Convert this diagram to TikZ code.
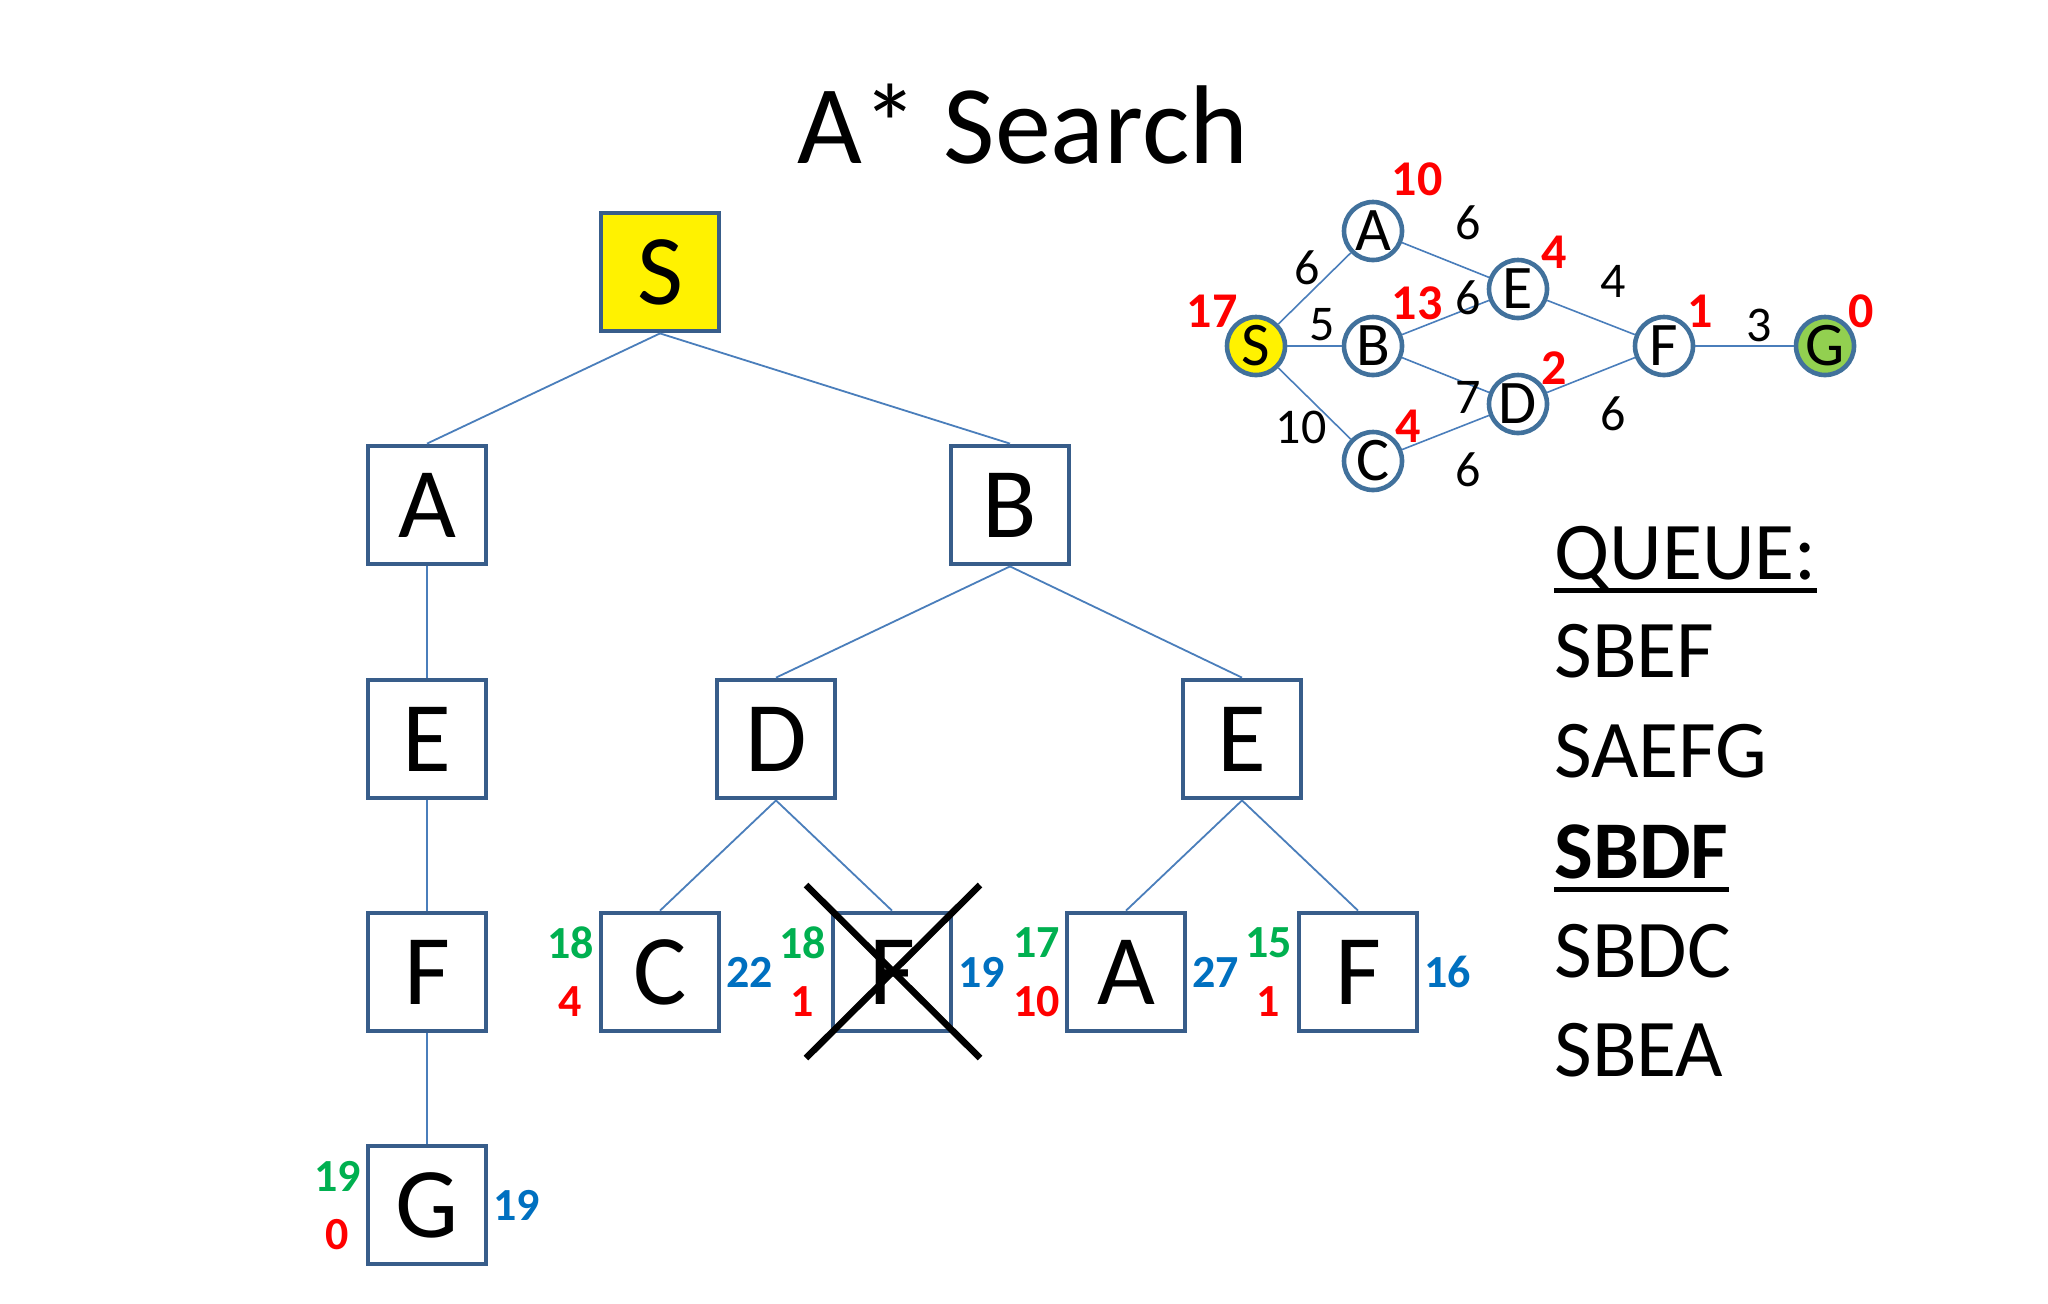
\documentclass[tikz,border=0pt]{standalone}
\usepackage{fontspec}
\setmainfont{Carlito}
\definecolor{boxc}{HTML}{385D8A}
\definecolor{edgec}{HTML}{4A7EBB}
\definecolor{circc}{HTML}{41719C}
\definecolor{gnum}{HTML}{00B050}
\definecolor{rnum}{HTML}{FF0000}
\definecolor{bnum}{HTML}{0070C0}
\definecolor{goalc}{HTML}{92D050}
\begin{document}
\begin{tikzpicture}[x=0.5pt,y=-0.5pt,
  tbox/.style={draw=boxc,line width=2.4pt,fill=white,minimum size=59pt,inner sep=0pt,font=\fontsize{50}{60}\selectfont},
  tedge/.style={draw=edgec,line width=0.9pt},
  gnode/.style={circle,draw=circc,line width=2.3pt,fill=white,minimum size=29pt,inner sep=0pt,font=\fontsize{31}{32}\selectfont},
  gedge/.style={draw=edgec,line width=0.8pt},
  wlab/.style={font=\fontsize{25}{26}\selectfont,inner sep=0pt},
  hlab/.style={font=\fontsize{25}{26}\selectfont\bfseries,text=rnum,inner sep=0pt},
  glab/.style={font=\fontsize{23}{25}\selectfont\bfseries,text=gnum,inner sep=0pt},
  rlab/.style={font=\fontsize{23}{25}\selectfont\bfseries,text=rnum,inner sep=0pt},
  blab/.style={font=\fontsize{23}{25}\selectfont\bfseries,text=bnum,inner sep=0pt},
  qtxt/.style={font=\fontsize{41}{48}\selectfont,inner sep=0pt,anchor=base west}
]
\useasboundingbox[fill=white] (0,0) rectangle (2048,1303);

% title
\node[font=\fontsize{56}{64}\selectfont,inner sep=0pt,anchor=base] (title) at (1023,163) {A* Search};

% tree
\node[tbox,fill=yellow] (tS) at (660,272) {S};
\node[tbox] (tA) at (427,505) {A};
\node[tbox] (tB) at (1010,505) {B};
\node[tbox] (tE1) at (427,739) {E};
\node[tbox] (tD) at (776,739) {D};
\node[tbox] (tE2) at (1242,739) {E};
\node[tbox] (tF1) at (427,972) {F};
\node[tbox] (tC) at (660,972) {C};
\node[tbox] (tFx) at (892,972) {F};
\node[tbox] (tA2) at (1126,972) {A};
\node[tbox] (tF2) at (1358,972) {F};
\node[tbox] (tG) at (427,1205) {G};

\draw[tedge] (tS.south) -- (tA.north);
\draw[tedge] (tS.south) -- (tB.north);
\draw[tedge] (tA.south) -- (tE1.north);
\draw[tedge] (tE1.south) -- (tF1.north);
\draw[tedge] (tF1.south) -- (tG.north);
\draw[tedge] (tB.south) -- (tD.north);
\draw[tedge] (tB.south) -- (tE2.north);
\draw[tedge] (tD.south) -- (tC.north);
\draw[tedge] (tD.south) -- (tFx.north);
\draw[tedge] (tE2.south) -- (tA2.north);
\draw[tedge] (tE2.south) -- (tF2.north);

% cross over F
\coordinate (x1) at (806,885);
\coordinate (x2) at (980,1058);
\coordinate (x3) at (980,885);
\coordinate (x4) at (806,1058);
\draw[line width=3.3pt] (x1) -- (x2);
\draw[line width=3.3pt] (x3) -- (x4);

% f, h, g labels
\foreach \n/\g/\h/\f in {tC/18/4/22, tFx/18/1/19, tA2/17/10/27, tF2/15/1/16, tG/19/0/19}{
  \node[glab] (g-\n) at ([xshift=-14pt,yshift=14.5pt]\n.west) {\g};
  \node[rlab] (h-\n) at ([xshift=-14pt,yshift=-15pt]\n.west) {\h};
  \node[blab] (f-\n) at ([xshift=14pt]\n.east) {\f};
}

% small graph
\node[gnode,fill=yellow] (gS) at (1256,346) {S};
\node[gnode] (gA) at (1373,231) {A};
\node[gnode] (gB) at (1373,346) {B};
\node[gnode] (gC) at (1373,461) {C};
\node[gnode] (gE) at (1518,289) {E};
\node[gnode] (gD) at (1518,404) {D};
\node[gnode] (gF) at (1664,346) {F};
\node[gnode,fill=goalc] (gG) at (1825,346) {G};

\draw[gedge] (gS) -- (gA);
\draw[gedge] (gS) -- (gB);
\draw[gedge] (gS) -- (gC);
\draw[gedge] (gA) -- (gE);
\draw[gedge] (gB) -- (gE);
\draw[gedge] (gB) -- (gD);
\draw[gedge] (gC) -- (gD);
\draw[gedge] (gE) -- (gF);
\draw[gedge] (gD) -- (gF);
\draw[gedge] (gF) -- (gG);

\node[wlab] (w1) at (1307,268) {6};
\node[wlab] (w2) at (1468,223) {6};
\node[wlab] (w3) at (1322,325) {5};
\node[wlab] (w4) at (1468,298) {6};
\node[wlab] (w5) at (1613,281) {4};
\node[wlab] (w6) at (1759,325) {3};
\node[wlab] (w7) at (1468,397) {7};
\node[wlab] (w8) at (1613,414) {6};
\node[wlab] (w9) at (1301,427) {10};
\node[wlab] (w10) at (1468,470) {6};

\node[hlab] (hA) at (1417,179) {10};
\node[hlab] (hE) at (1554,252) {4};
\node[hlab] (hB) at (1417,303) {13};
\node[hlab] (hS) at (1212,311) {17};
\node[hlab] (hF) at (1700,311) {1};
\node[hlab] (hG) at (1861,311) {0};
\node[hlab] (hD) at (1554,368) {2};
\node[hlab] (hC) at (1408,426) {4};

% queue
\node[qtxt] (q0) at (1554,579) {QUEUE:};
\node[qtxt] (q1) at (1554,677) {SBEF};
\node[qtxt] (q2) at (1554,777) {SAEFG};
\node[qtxt,font=\fontsize{41}{48}\selectfont\bfseries] (q3) at (1554,878) {SBDF};
\node[qtxt] (q4) at (1554,977) {SBDC};
\node[qtxt] (q5) at (1554,1076) {SBEA};
\draw[line width=2.5pt] ([yshift=-5.5pt]q0.base west) -- ([yshift=-5.5pt]q0.base east);
\draw[line width=2.5pt] ([yshift=-5.5pt]q3.base west) -- ([yshift=-5.5pt]q3.base east);
\end{tikzpicture}
\end{document}
